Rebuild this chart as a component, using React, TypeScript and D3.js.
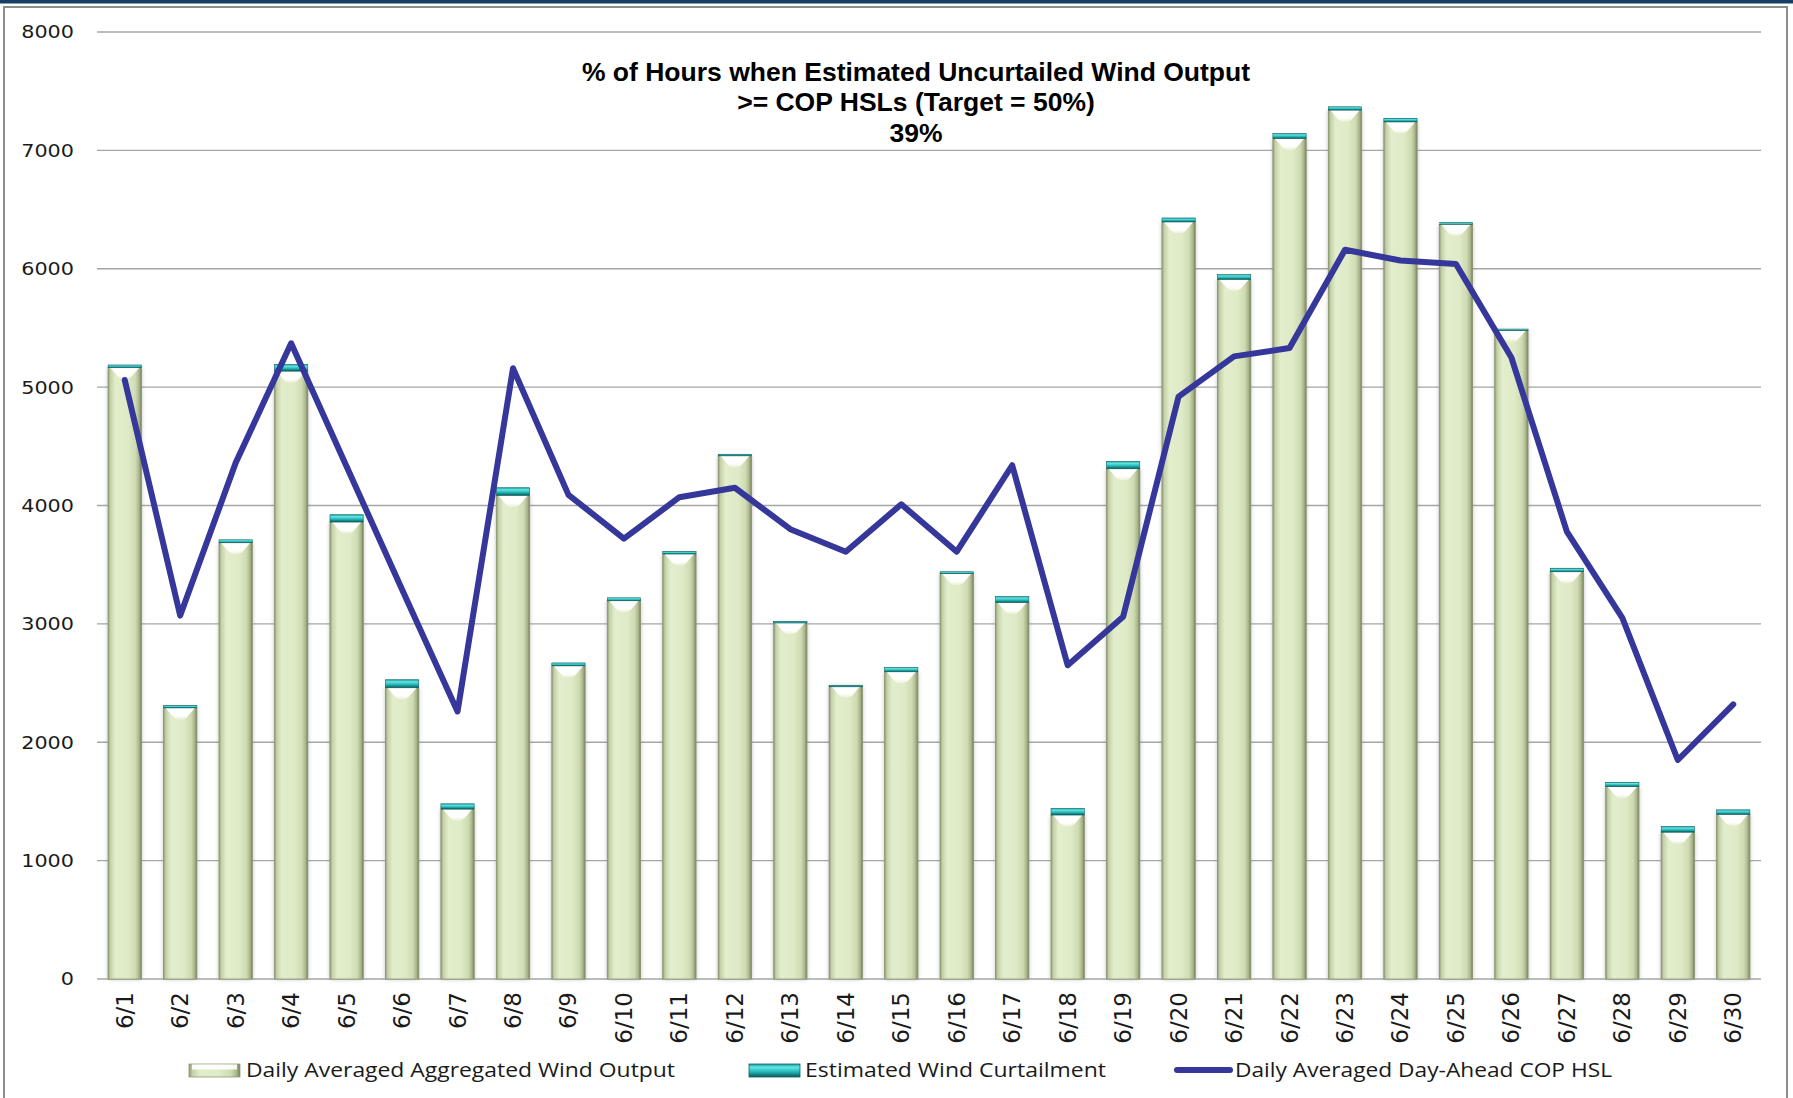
import React from "react";
import * as d3 from "d3";

const days: string[] = [
  "6/1","6/2","6/3","6/4","6/5","6/6","6/7","6/8","6/9","6/10",
  "6/11","6/12","6/13","6/14","6/15","6/16","6/17","6/18","6/19","6/20",
  "6/21","6/22","6/23","6/24","6/25","6/26","6/27","6/28","6/29","6/30",
];
const windOutput: number[] = [
  5165, 2290, 3685, 5135, 3860, 2460, 1435, 4085, 2645, 3195,
  3590, 4420, 3010, 2475, 2595, 3425, 3180, 1385, 4310, 6395,
  5910, 7100, 7340, 7240, 6375, 5480, 3440, 1625, 1240, 1390,
];
const curtailment: number[] = [
  22, 20, 25, 56, 62, 68, 45, 65, 25, 25,
  22, 12, 10, 6, 36, 15, 50, 56, 62, 34,
  40, 42, 28, 31, 14, 10, 30, 36, 48, 39,
];
const copHsl: number[] = [
  5060, 3070, 4360, 5370, 4330, 3290, 2260, 5160, 4090, 3720,
  4070, 4150, 3800, 3610, 4010, 3610, 4340, 2650, 3060, 4920,
  5260, 5330, 6160, 6070, 6040, 5250, 3780, 3050, 1850, 2320,
];
const yTicks: number[] = [0, 1000, 2000, 3000, 4000, 5000, 6000, 7000, 8000];
const titleLines: string[] = [
  "% of Hours when Estimated Uncurtailed Wind Output",
  ">= COP HSLs (Target = 50%)",
  "39%",
];
const legendLabels: string[] = [
  "Daily Averaged Aggregated Wind Output",
  "Estimated Wind Curtailment",
  "Daily Averaged Day-Ahead COP HSL",
];

const W = 1793;
const H = 1098;
const PL = 97;
const PR = 1761;
const PT = 32;
const PB = 979;

export default function App() {
  const x = d3.scaleBand<string>().domain(days).range([PL, PR]).paddingInner(0.4).paddingOuter(0.2);
  const y = d3.scaleLinear().domain([0, 8000]).range([PB, PT]);
  const bw = x.bandwidth();
  const line = d3
    .line<number>()
    .x((_, i) => (x(days[i]) as number) + bw / 2)
    .y((v) => y(v));

  return (
    <div style={{ position: "absolute", left: 0, top: 0 }}>
      <svg width={W} height={H} style={{ display: "block", background: "#fff" }}>
        <defs>
          <linearGradient id="barG" x1="0" x2="1" y1="0" y2="0">
            <stop offset="0" stopColor="#8e9a72" />
            <stop offset="0.07" stopColor="#c5d1a9" />
            <stop offset="0.22" stopColor="#e2edcc" />
            <stop offset="0.6" stopColor="#dfeac7" />
            <stop offset="0.82" stopColor="#cfdbb2" />
            <stop offset="0.93" stopColor="#aab68c" />
            <stop offset="1" stopColor="#76805c" />
          </linearGradient>
          <linearGradient id="capG" x1="0" x2="0" y1="0" y2="1">
            <stop offset="0" stopColor="#1c9c9c" />
            <stop offset="0.25" stopColor="#63e4e4" />
            <stop offset="0.55" stopColor="#2bc0c0" />
            <stop offset="0.85" stopColor="#137c7c" />
            <stop offset="1" stopColor="#0b5656" />
          </linearGradient>
          <linearGradient id="chevG" x1="0" x2="0" y1="0" y2="1">
            <stop offset="0" stopColor="#ffffff" stopOpacity="1" />
            <stop offset="0.7" stopColor="#ffffff" stopOpacity="0.95" />
            <stop offset="1" stopColor="#fbfbe8" stopOpacity="0.4" />
          </linearGradient>
          <filter id="shadow" x="-30%" y="-5%" width="160%" height="110%">
            <feDropShadow dx="0" dy="0" stdDeviation="2.2" floodColor="#7a7a7a" floodOpacity="0.55" />
          </filter>
        </defs>

        {/* frame */}
        <rect x={0} y={0} width={W} height={3.5} fill="#163f63" />
        <rect x={4} y={7} width={1783} height={H + 10} fill="none" stroke="#8c8c8c" strokeWidth={2} />

        {/* gridlines */}
        {yTicks.map((t) => (
          <line key={t} x1={PL} x2={PR} y1={y(t)} y2={y(t)} stroke="#a6a6a6" strokeWidth={1.3} />
        ))}

        {/* y tick labels */}
        {yTicks.map((t) => {
          const s = String(t);
          return (
            <text
              key={"yl" + t}
              x={74}
              y={y(t)}
              dy="0.36em"
              textAnchor="end"
              fontFamily="DejaVu Sans"
              fontSize={18}
              fill="#1a1a1a"
              textLength={s.length * 13.2}
              lengthAdjust="spacingAndGlyphs"
            >
              {s}
            </text>
          );
        })}

        {/* bars */}
        {days.map((d, i) => {
          const x0 = x(d) as number;
          const yTop = y(windOutput[i]);
          const yCap = y(windOutput[i] + curtailment[i]);
          const cx = x0 + bw / 2;
          return (
            <g key={"b" + d}>
              <g filter="url(#shadow)">
                <rect x={x0} y={yTop} width={bw} height={PB - yTop} fill="url(#barG)" />
              </g>
              <rect x={x0} y={yTop} width={bw} height={PB - yTop} fill="url(#barG)" stroke="#8f9a76" strokeWidth={0.8} />
              <path
                d={`M${x0 + 2},${yTop} L${x0 + bw - 2},${yTop} L${cx + 6},${yTop + 10} Q${cx},${yTop + 13} ${cx - 6},${yTop + 10} Z`}
                fill="url(#chevG)"
              />
              <rect
                x={x0}
                y={yCap}
                width={bw}
                height={Math.max(yTop - yCap, 1.5)}
                fill="url(#capG)"
                stroke="#0e6363"
                strokeWidth={0.6}
              />
            </g>
          );
        })}

        {/* line */}
        <path d={line(copHsl) || ""} fill="none" stroke="#35379a" strokeWidth={6} strokeLinejoin="round" strokeLinecap="round" />

        {/* x labels */}
        {days.map((d) => {
          const cx = (x(d) as number) + bw / 2;
          return (
            <text
              key={"xl" + d}
              transform={`translate(${cx + 8},${992}) rotate(-90)`}
              textAnchor="end"
              fontFamily="DejaVu Sans"
              fontSize={23}
              fill="#1a1a1a"
            >
              {d}
            </text>
          );
        })}

        {/* title */}
        {titleLines.map((t, i) => (
          <text
            key={"t" + i}
            x={916}
            y={80.5 + i * 30.8}
            textAnchor="middle"
            fontFamily="Liberation Sans, Arial, sans-serif"
            fontWeight="bold"
            fontSize={26.5}
            fill="#000"
          >
            {t}
          </text>
        ))}

        {/* legend */}
        <g>
          <rect x={189} y={1064} width={51} height={13} fill="url(#barG)" stroke="#8f9a76" strokeWidth={0.8} />
          <rect x={192} y={1064.5} width={45} height={5} fill="#ffffff" opacity={0.9} />
          <text x={246} y={1077} fontFamily="Open Sans" fontSize={20} fill="#1a1a1a" textLength={429} lengthAdjust="spacingAndGlyphs">
            {legendLabels[0]}
          </text>

          <rect x={749} y={1064} width={51} height={13} fill="url(#capG)" stroke="#0e6363" strokeWidth={0.8} />
          <text x={805} y={1077} fontFamily="Open Sans" fontSize={20} fill="#1a1a1a" textLength={301} lengthAdjust="spacingAndGlyphs">
            {legendLabels[1]}
          </text>

          <line x1={1177} x2={1230} y1={1070} y2={1070} stroke="#35379a" strokeWidth={6} strokeLinecap="round" />
          <text x={1235} y={1077} fontFamily="Open Sans" fontSize={20} fill="#1a1a1a" textLength={377} lengthAdjust="spacingAndGlyphs">
            {legendLabels[2]}
          </text>
        </g>
      </svg>
    </div>
  );
}
